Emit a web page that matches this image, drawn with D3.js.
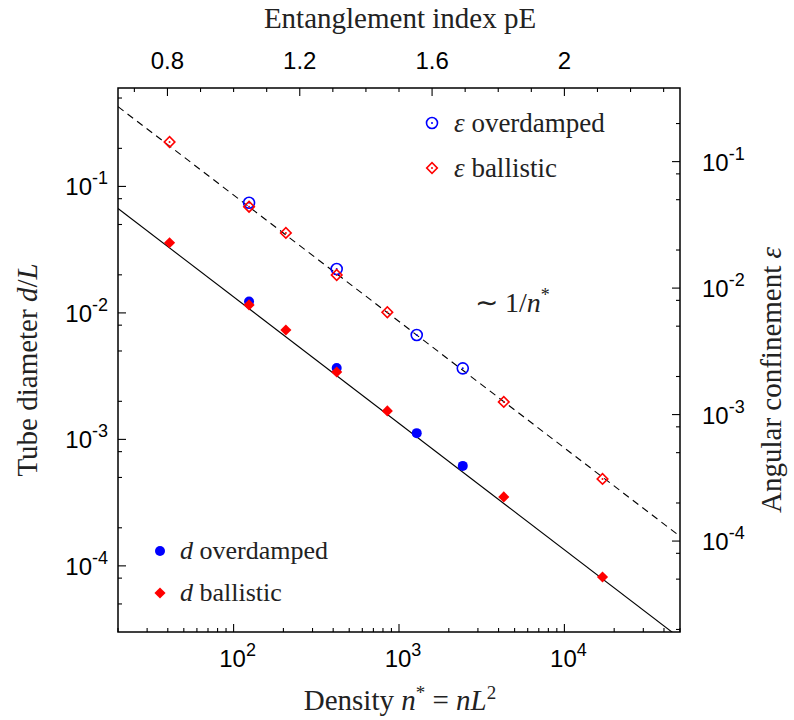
<!DOCTYPE html>
<html><head><meta charset="utf-8">
<script src="https://cdn.jsdelivr.net/npm/d3@7"></script>
<style>body{margin:0;background:#fff}</style>
</head><body>
<svg id="c" width="794" height="720"></svg>
<script>
// ---- data ----
const ballisticN   = [41, 124, 207, 420, 850, 4300, 17000];
const ballisticD   = [0.0359, 0.01156, 0.00733, 0.00341, 0.00168, 3.51e-4, 8.17e-5];
const ballisticEps = [0.143, 0.0440, 0.0273, 0.0127, 0.00644, 0.00126, 3.10e-4];
const overdampedN   = [124, 420, 1280, 2430];
const overdampedD   = [0.01228, 0.00367, 0.00112, 6.17e-4];
const overdampedEps = [0.0473, 0.01417, 0.00426, 0.00232];
const fitN   = [20, 50000];
const fitD   = [0.0669, 2.68e-5];
const fitEps = [0.272, 1.09e-4];
const xTickExps = [2, 3, 4];
const yTickExps = [-1, -2, -3, -4];
const topTickVals = [0.8, 1.2, 1.6, 2];
const topTickLabels = ["0.8", "1.2", "1.6", "2"];

// ---- layout ----
const L = 118, R = 680, T = 88, B = 632;
const svg = d3.select("#c");
const x = d3.scaleLog().domain([20, 5e4]).range([L, R]);
const y = d3.scaleLog().domain([3e-5, 0.6]).range([B, T]);
const yR = d3.scaleLog().domain([3e-5 * 2 / Math.PI, 0.6 * 2 / Math.PI]).range([B, T]);
const xTop = d3.scaleLinear().domain([Math.log10(20) / 2, Math.log10(5e4) / 2]).range([L, R]);

const sans = "'Liberation Sans', Arial, sans-serif";
const serif = "'Liberation Serif', 'Times New Roman', serif";
const TITLE = 29, TICK = 24, SUP = 18;

svg.append("defs").append("clipPath").attr("id", "clip")
  .append("rect").attr("x", L).attr("y", T).attr("width", R - L).attr("height", B - T);
const g = svg.append("g").attr("clip-path", "url(#clip)");

// fit lines
const fitData = fitN.map((n, i) => ({n, d: fitD[i], e: fitEps[i]}));
g.append("path").datum(fitData)
  .attr("d", d3.line().x(p => x(p.n)).y(p => y(p.d)))
  .attr("stroke", "#000").attr("stroke-width", 1.1).attr("fill", "none");
g.append("path").datum(fitData)
  .attr("d", d3.line().x(p => x(p.n)).y(p => yR(p.e)))
  .attr("stroke", "#000").attr("stroke-width", 1.1).attr("fill", "none")
  .attr("stroke-dasharray", "7,5");

// markers
const diamond = d3.symbol().type(d3.symbolSquare).size(62)();
const openDiamond = d3.symbol().type(d3.symbolSquare).size(56)();

function drawOpenCircle(sel, xs, ys) {
  xs.forEach((n, i) => {
    const cx = x(n), cy = yR(ys[i]);
    sel.append("circle").attr("cx", cx).attr("cy", cy).attr("r", 5.5)
      .attr("fill", "none").attr("stroke", "#0000ff").attr("stroke-width", 1.6);
    sel.append("circle").attr("cx", cx).attr("cy", cy).attr("r", 1).attr("fill", "#0000ff");
  });
}
function drawOpenDiamond(sel, xs, ys) {
  xs.forEach((n, i) => {
    const cx = x(n), cy = yR(ys[i]);
    sel.append("path").attr("d", openDiamond)
      .attr("transform", `translate(${cx},${cy}) rotate(45)`)
      .attr("fill", "none").attr("stroke", "#ff0000").attr("stroke-width", 1.6);
    sel.append("circle").attr("cx", cx).attr("cy", cy).attr("r", 1).attr("fill", "#ff0000");
  });
}
const mk = svg.append("g");
mk.selectAll(".od").data(overdampedN).join("circle")
  .attr("cx", n => x(n)).attr("cy", (n, i) => y(overdampedD[i])).attr("r", 5)
  .attr("fill", "#0000ff");
mk.selectAll(".bd").data(ballisticN).join("path")
  .attr("d", diamond)
  .attr("transform", (n, i) => `translate(${x(n)},${y(ballisticD[i])}) rotate(45)`)
  .attr("fill", "#ff0000");
drawOpenCircle(mk, overdampedN, overdampedEps);
drawOpenDiamond(mk, ballisticN, ballisticEps);

// ---- ticks ----
const ax = svg.append("g").attr("stroke", "#000").attr("stroke-width", 1.1);
const MJ = 8, MN = 4;
for (let e = 1; e <= 4; e++) {
  for (let k = 1; k <= 9; k++) {
    const v = k * Math.pow(10, e);
    if (v < 20 || v > 5e4) continue;
    const len = k === 1 ? MJ : MN;
    ax.append("line").attr("x1", x(v)).attr("x2", x(v)).attr("y1", B).attr("y2", B - len);
  }
}
for (let t = 7; t <= 23; t++) {
  const v = t / 10;
  const major = topTickVals.some(m => Math.abs(m - v) < 1e-9);
  ax.append("line").attr("x1", xTop(v)).attr("x2", xTop(v)).attr("y1", T).attr("y2", T + (major ? MJ : MN));
}
function yTicks(scale, xEdge, dir) {
  for (let e = -5; e <= 0; e++) {
    [1, 2, 5, 8].forEach(k => {
      const v = k * Math.pow(10, e);
      const [lo, hi] = scale.domain();
      if (v < lo || v > hi) return;
      const len = k === 1 ? MJ : MN;
      ax.append("line").attr("x1", xEdge).attr("x2", xEdge + dir * len).attr("y1", scale(v)).attr("y2", scale(v));
    });
  }
}
yTicks(y, L, 1);
yTicks(yR, R, -1);

svg.append("rect").attr("x", L).attr("y", T).attr("width", R - L).attr("height", B - T)
  .attr("fill", "none").attr("stroke", "#000").attr("stroke-width", 1.5);

// ---- tick labels ----
function powLabel(sel, xp, yp, exp, anchor) {
  const t = sel.append("text").attr("x", xp).attr("y", yp).attr("text-anchor", anchor)
    .attr("font-family", sans).attr("font-size", TICK).attr("fill", "#000");
  t.append("tspan").text("10");
  t.append("tspan").attr("dy", -11).attr("font-size", SUP).text(exp);
  return t;
}
const lab = svg.append("g");
xTickExps.forEach(e => powLabel(lab, x(Math.pow(10, e)) + 4, 667, String(e), "middle"));
yTickExps.forEach(e => powLabel(lab, 108, y(Math.pow(10, e)) + 9, String(e), "end"));
yTickExps.forEach(e => powLabel(lab, 702, yR(Math.pow(10, e)) + 9, String(e), "start"));
topTickVals.forEach((v, i) => lab.append("text").attr("x", xTop(v)).attr("y", 69)
  .attr("text-anchor", "middle").attr("font-family", sans).attr("font-size", TICK).text(topTickLabels[i]));

// ---- titles ----
svg.append("text").attr("x", 400).attr("y", 28).attr("text-anchor", "middle")
  .attr("font-family", serif).attr("font-size", TITLE).attr("fill", "#222").text("Entanglement index pE");

const bt = svg.append("text").attr("x", 400).attr("y", 710).attr("text-anchor", "middle")
  .attr("font-family", serif).attr("font-size", TITLE).attr("fill", "#222");
bt.append("tspan").text("Density ");
bt.append("tspan").attr("font-style", "italic").text("n");
bt.append("tspan").attr("dy", -11).attr("font-size", 19).text("*");
bt.append("tspan").attr("dy", 11).text(" = ");
bt.append("tspan").attr("font-style", "italic").text("nL");
bt.append("tspan").attr("dy", -11).attr("font-size", 19).text("2");

const lt = svg.append("text").attr("transform", "translate(37,370) rotate(-90)").attr("text-anchor", "middle")
  .attr("font-family", serif).attr("font-size", TITLE).attr("fill", "#222");
lt.append("tspan").text("Tube diameter ");
lt.append("tspan").attr("font-style", "italic").text("d");
lt.append("tspan").text("/");
lt.append("tspan").attr("font-style", "italic").text("L");

const rt = svg.append("text").attr("transform", "translate(781,380) rotate(-90)").attr("text-anchor", "middle")
  .attr("font-family", serif).attr("font-size", TITLE).attr("fill", "#222");
rt.append("tspan").text("Angular confinement ");
rt.append("tspan").attr("font-style", "italic").text("ε");

const an = svg.append("text").attr("x", 475).attr("y", 312)
  .attr("font-family", serif).attr("font-size", 28).attr("fill", "#222");
an.append("tspan").text("∼ 1/");
an.append("tspan").attr("font-style", "italic").text("n");
an.append("tspan").attr("dy", -11).attr("font-size", 18).text("*");

// ---- legends ----
const lg = svg.append("g");
lg.append("circle").attr("cx", 432).attr("cy", 123).attr("r", 5.5).attr("fill", "none").attr("stroke", "#0000ff").attr("stroke-width", 1.6);
lg.append("circle").attr("cx", 432).attr("cy", 123).attr("r", 1).attr("fill", "#0000ff");
lg.append("path").attr("d", openDiamond).attr("transform", "translate(432,168) rotate(45)").attr("fill", "none").attr("stroke", "#ff0000").attr("stroke-width", 1.6);
lg.append("circle").attr("cx", 432).attr("cy", 168).attr("r", 1).attr("fill", "#ff0000");
lg.append("circle").attr("cx", 160).attr("cy", 551).attr("r", 5).attr("fill", "#0000ff");
lg.append("path").attr("d", diamond).attr("transform", "translate(160,593) rotate(45)").attr("fill", "#ff0000");

function legText(xp, yp, sym, rest, fs) {
  const t = lg.append("text").attr("x", xp).attr("y", yp).attr("font-family", serif).attr("font-size", fs).attr("fill", "#222");
  t.append("tspan").attr("font-style", "italic").text(sym);
  t.append("tspan").text(" " + rest);
}
legText(454, 132, "ε", "overdamped", 27);
legText(454, 177, "ε", "ballistic", 27);
legText(180, 559, "d", "overdamped", 26);
legText(180, 601, "d", "ballistic", 26);
</script>
</body></html>
